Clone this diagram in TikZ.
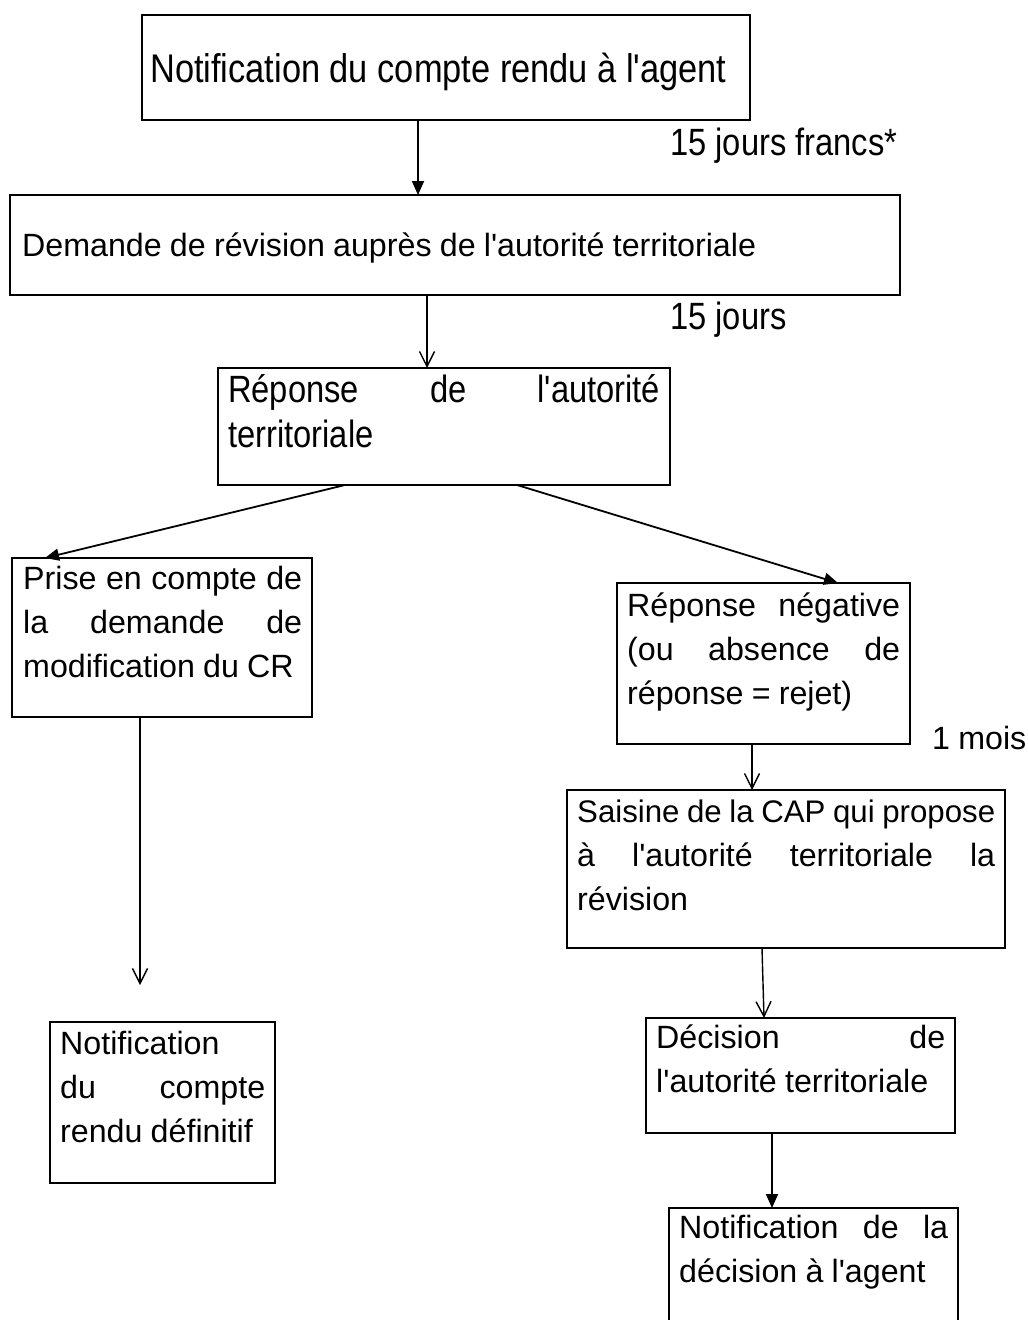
\documentclass[tikz,border=0pt]{standalone}
\usepackage{fontspec}
\newfontfamily\regfont[WordSpace=0.92]{Liberation Sans}
\newfontfamily\condfont[FakeStretch=0.86]{Liberation Sans}
\setmainfont{Liberation Sans}
\usetikzlibrary{arrows.meta}
\newcommand\rgfont{\regfont\fontsize{32.2}{44}\selectfont}
\newcommand\cdfont{\condfont\fontsize{38}{45}\selectfont}
\newcommand\jline[2]{\makebox[#1][s]{#2}}
\begin{document}
\begin{tikzpicture}[x=1pt,y=-1pt,
  boxst/.style={draw, line width=2.4pt, inner sep=0pt, outer sep=0pt, anchor=north west},
  txt/.style={inner sep=0pt, anchor=base west},
  farrow/.style={line width=1.8pt, -{Triangle[length=14pt,width=12pt]}},
  oarrow/.style={line width=1.4pt, -{Straight Barb[length=15pt,width=15pt,line width=1.4pt]}}]
\useasboundingbox (0,0) rectangle (1028,1320);
% boxes
\node[boxst, minimum width=608pt, minimum height=105pt] (b1) at (142,15) {};
\node[boxst, minimum width=890pt, minimum height=100pt] (b2) at (10,195) {};
\node[boxst, minimum width=452pt, minimum height=117pt] (b3) at (218,368) {};
\node[boxst, minimum width=300pt, minimum height=159pt] (b4) at (12,558) {};
\node[boxst, minimum width=293pt, minimum height=161pt] (b5) at (617,583) {};
\node[boxst, minimum width=438pt, minimum height=158pt] (b6) at (567,790) {};
\node[boxst, minimum width=309pt, minimum height=115pt] (b7) at (646,1018) {};
\node[boxst, minimum width=289pt, minimum height=118pt] (b8) at (669,1208) {};
\node[boxst, minimum width=225pt, minimum height=161pt] (b9) at (50,1022) {};
% texts
\node[txt] (t1) at (150,82) {\condfont\fontsize{40}{45}\selectfont Notification du compte rendu à l'agent};
\node[txt] (t2) at (22,256) {\rgfont Demande de révision auprès de l'autorité territoriale};
\node[txt] (l1) at (670,155) {\cdfont 15 jours francs*};
\node[txt] (l2) at (670,329) {\cdfont 15 jours};
\node[txt] (t3) at (228,402) {\parbox[t]{432pt}{\cdfont\jline{432pt}{Réponse de l'autorité}\\territoriale}};
\node[txt] (t4) at (23,589) {\parbox[t]{279pt}{\rgfont\jline{279pt}{Prise en compte de}\\\jline{279pt}{la demande de}\\modification du CR}};
\node[txt] (t5) at (627,616) {\parbox[t]{273pt}{\rgfont\jline{273pt}{Réponse négative}\\\jline{273pt}{(ou absence de}\\réponse = rejet)}};
\node[txt] (l3) at (932,749) {\rgfont 1 mois};
\node[txt] (t6) at (577,822) {\parbox[t]{418pt}{\rgfont\jline{418pt}{\fontsize{31.2}{44}\selectfont Saisine de la CAP qui propose}\\\jline{418pt}{à l'autorité territoriale la}\\révision}};
\node[txt] (t7) at (656,1048) {\parbox[t]{289pt}{\rgfont\jline{289pt}{Décision de}\\l'autorité territoriale}};
\node[txt] (t8) at (679,1238) {\parbox[t]{269pt}{\rgfont\jline{269pt}{Notification de la}\\décision à l'agent}};
\node[txt] (t9) at (60,1054) {\parbox[t]{205pt}{\rgfont Notification\\\jline{205pt}{du compte}\\rendu définitif}};
% connectors
\coordinate (e8) at (140,985);
\draw[farrow] ([xshift=276pt]b1.south west) -- ([xshift=408pt]b2.north west);
\draw[oarrow] ([xshift=417pt]b2.south west) -- ([xshift=209pt]b3.north west);
\draw[farrow] ([xshift=127pt]b3.south west) -- ([xshift=33pt]b4.north west);
\draw[farrow] ([xshift=299pt]b3.south west) -- ([xshift=221pt]b5.north west);
\draw[oarrow] ([xshift=135pt]b5.south west) -- ([xshift=185pt]b6.north west);
\draw[oarrow] ([xshift=195pt]b6.south west) -- ([xshift=118pt]b7.north west);
\draw[farrow] ([xshift=126pt]b7.south west) -- ([xshift=103pt]b8.north west);
\draw[oarrow] ([xshift=128pt]b4.south west) -- (e8);
\end{tikzpicture}
\end{document}
